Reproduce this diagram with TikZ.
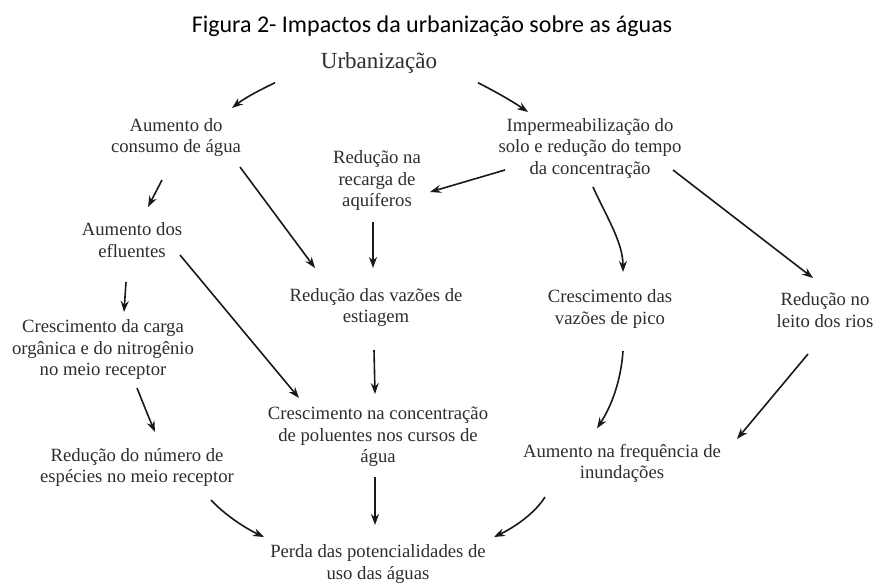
\documentclass[tikz,border=0pt]{standalone}
\usepackage{fontspec}
\setmainfont{Liberation Serif}
\newfontfamily\titlefont{Carlito}
\usetikzlibrary{arrows.meta,calc}
\definecolor{txt}{gray}{0.18}
\definecolor{arrc}{gray}{0.1}
\newcommand{\bst}{\rule[-5.4pt]{0pt}{19.4pt}}
\newcommand{\ust}{\rule[-6.9pt]{0pt}{24.4pt}}
\begin{document}
\begin{tikzpicture}[x=1pt,y=-1pt,
  lbl/.style={font=\fontsize{18.7}{21.5}\selectfont, text=txt, align=center, inner sep=0pt},
  con/.style={draw=arrc, line width=1.6pt, -{Stealth[length=11pt,width=8pt]}}]
\useasboundingbox[fill=white] (0,0) rectangle (874,582);
\node[font=\titlefont\fontsize{24}{28}\selectfont, anchor=base, inner sep=0pt] (title) at (432,32) {Figura 2- Impactos da urbanização sobre as águas};
\node[font=\fontsize{23}{27}\selectfont, text=txt, inner sep=0pt] (urb) at (379,62.7) {\ust Urbanização};
\node[lbl] (consumo) at (176,137.5) {\bst Aumento do\\\bst consumo de água};
\node[lbl] (imperm) at (590,148.5) {\bst Impermeabilização do\\\bst solo e redução do tempo\\\bst da concentração};
\node[lbl] (recarga) at (377,181) {\bst Redução na\\\bst recarga de\\\bst aquíferos};
\node[lbl] (efluentes) at (132,242) {\bst Aumento dos\\\bst efluentes};
\node[lbl] (estiagem) at (376,307.5) {\bst Redução das vazões de\\\bst estiagem};
\node[lbl] (pico) at (610,309) {\bst Crescimento das\\\bst vazões de pico};
\node[lbl] (leito) at (825,312) {\bst Redução no\\\bst leito dos rios};
\node[lbl] (carga) at (103,350) {\bst Crescimento da carga\\\bst orgânica e do nitrogênio\\\bst no meio receptor};
\node[lbl] (especies) at (137,467.5) {\bst Redução do número de\\\bst espécies no meio receptor};
\node[lbl] (conc) at (378,437) {\bst Crescimento na concentração\\\bst de poluentes nos cursos de\\\bst água};
\node[lbl] (inund) at (622,463.5) {\bst Aumento na frequência de\\\bst inundações};
\node[lbl] (perda) at (378,564) {\bst Perda das potencialidades de\\\bst uso das águas};

\draw[con] ($(urb)+(-104,20)$) .. controls (262,89) and (246,97) .. ($(consumo)+(56,-29.5)$);
\draw[con] ($(urb)+(99,20)$) .. controls (496,92) and (512,101) .. ($(imperm)+(-62,-36.5)$);
\draw[con] ($(consumo)+(-14,42.5)$) -- ($(efluentes)+(16,-35)$);
\draw[con] ($(consumo)+(64,29.5)$) -- ($(estiagem)+(-61,-39.5)$);
\draw[con] ($(imperm)+(-85,21.5)$) -- ($(recarga)+(53,11)$);
\draw[con] ($(recarga)+(-4,41)$) -- ($(estiagem)+(-3,-39.5)$);
\draw[con] ($(imperm)+(3,38.5)$) .. controls (605,214) and (623,242) .. ($(pico)+(13,-37)$);
\draw[con] ($(imperm)+(83,21.5)$) -- ($(leito)+(-12,-34)$);
\draw[con] ($(efluentes)+(-6,40)$) -- ($(carga)+(21,-38)$);
\draw[con] ($(efluentes)+(48,13)$) -- ($(conc)+(-79,-39)$);
\draw[con] ($(estiagem)+(-2,42.5)$) -- ($(conc)+(-3,-43)$);
\draw[con] ($(carga)+(34,38)$) .. controls (143,403) and (149,418) .. ($(especies)+(18,-35.5)$);
\draw[con] ($(pico)+(13,42)$) .. controls (621,380) and (612,405) .. ($(inund)+(-25,-35)$);
\draw[con] ($(leito)+(-17,42)$) -- ($(inund)+(115,-24.5)$);
\draw[con] ($(conc)+(-3,40)$) -- ($(perda)+(-3,-39)$);
\draw[con] ($(especies)+(74,32.5)$) .. controls (225,515) and (245,528) .. ($(perda)+(-114,-27)$);
\draw[con] ($(inund)+(-77,33.5)$) .. controls (535,513) and (515,527) .. ($(perda)+(116,-27)$);
\end{tikzpicture}
\end{document}
